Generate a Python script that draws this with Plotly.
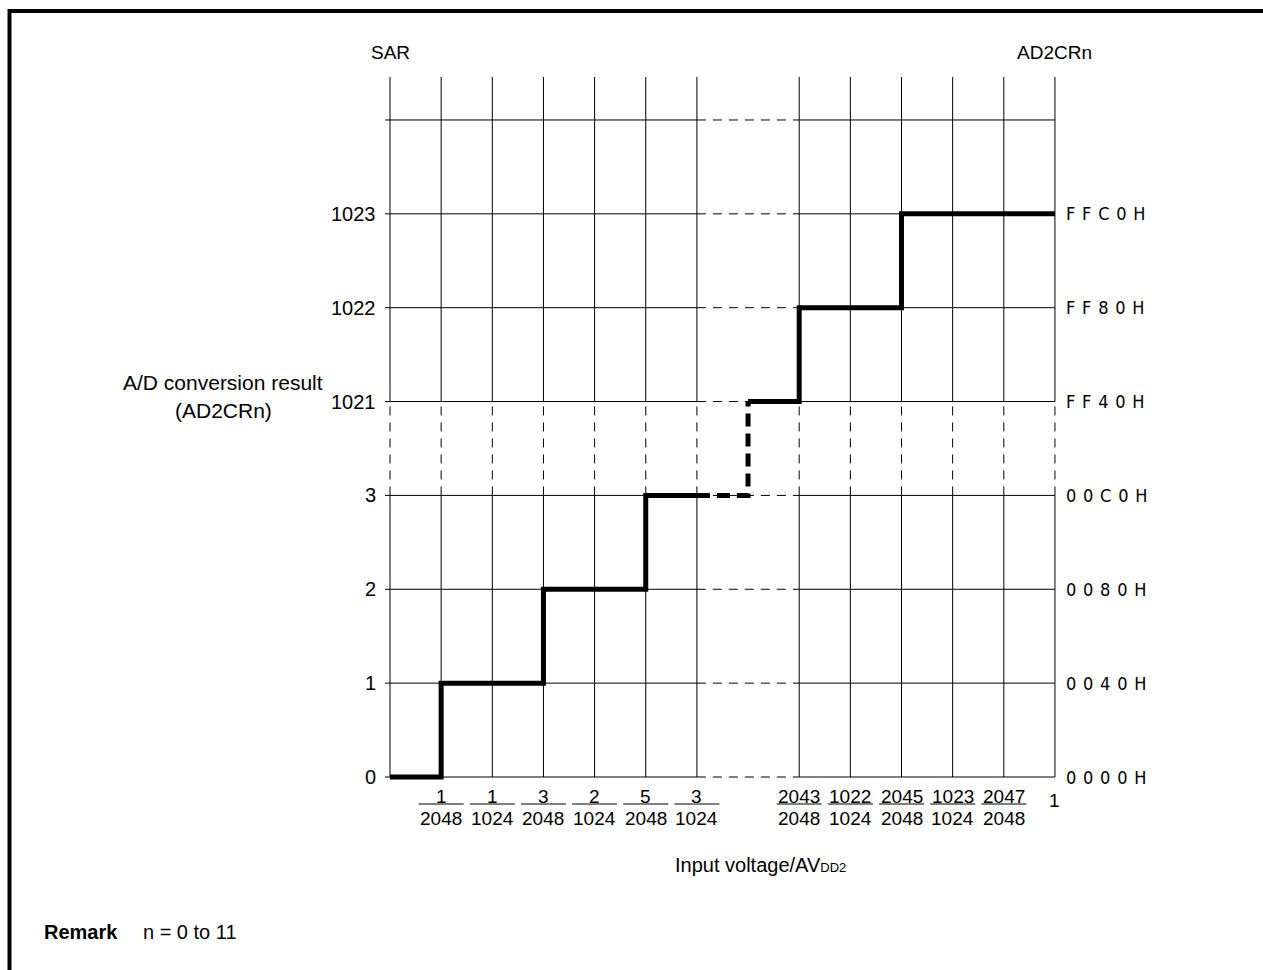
import plotly.graph_objects as go

# ---------------- data ----------------
sar_labels = ["0", "1", "2", "3", "1021", "1022", "1023"]           # SAR codes (rows)
hex_labels = ["0000H", "0040H", "0080H", "00C0H", "FF40H", "FF80H", "FFC0H"]  # AD2CRn
row_pos = [0, 1, 2, 3, 4, 5, 6]
top_row = 7                                                          # unlabeled top grid line

frac_num = ["1", "1", "3", "2", "5", "3", "2043", "1022", "2045", "1023", "2047"]
frac_den = ["2048", "1024", "2048", "1024", "2048", "1024", "2048", "1024", "2048", "1024", "2048"]
frac_pos = [1, 2, 3, 4, 5, 6, 8, 9, 10, 11, 12]
end_label, end_pos = "1", 13

# staircase: (edge positions, code rows) for the low and the high part
low_edges = [0, 1, 3, 5, 6]
low_rows = [0, 1, 2, 3]
gap_edges = [6, 7]            # broken (dashed) part
high_edges = [7, 8, 10, 13]
high_rows = [4, 5, 6]

# ---------------- geometry helpers ----------------
W, H = 1263, 970
X0, DX = 390.0, 51.15        # pixel of x=0, pixels per unit
Y0, DY = 777.0, 93.86        # pixel of y=0, pixels per unit
xr = [-X0 / DX, (W - X0) / DX]
yr = [(Y0 - H) / DY, Y0 / DY]


def ypx(p):
    return (Y0 - p) / DY


def xpx(p):
    return (p - X0) / DX


FONT = "Liberation Sans, Arial, Helvetica, sans-serif"
NARROW = "Liberation Sans Narrow, Arial Narrow, DejaVu Sans Condensed, Liberation Sans, sans-serif"

fig = go.Figure()

# ---------------- grid ----------------
cols = [0, 1, 2, 3, 4, 5, 6, 8, 9, 10, 11, 12, 13]
ytop = ypx(77)
break_lo, break_hi = 3, 4
left_end, right_start = 6, 8
xl = -5 / DX
right_end = 13

sx, sy, dx_, dy_ = [], [], [], []
for c in cols:
    sx += [c, c, None, c, c, None]
    sy += [0, break_lo, None, break_hi, ytop, None]
    dx_ += [c, c, None]
    dy_ += [break_lo, break_hi, None]
for r in row_pos + [top_row]:
    sx += [xl, left_end, None, right_start, right_end, None]
    sy += [r, r, None, r, r, None]
    dx_ += [left_end, right_start, None]
    dy_ += [r, r, None]

fig.add_trace(go.Scatter(x=sx, y=sy, mode="lines", line=dict(color="black", width=1),
                         hoverinfo="skip", showlegend=False))
fig.add_trace(go.Scatter(x=dx_, y=dy_, mode="lines",
                         line=dict(color="black", width=1, dash="9px,7px"),
                         hoverinfo="skip", showlegend=False))


# ---------------- staircase ----------------
def stair(edges, rows):
    xs, ys = [], []
    for i, r in enumerate(rows):
        xs += [edges[i], edges[i + 1]]
        ys += [r, r]
    return xs, ys


lx, ly = stair(low_edges, low_rows)
hx, hy = stair(high_edges, high_rows)
gx = [gap_edges[0], gap_edges[1], gap_edges[1]]
gy = [low_rows[-1], low_rows[-1], high_rows[0]]

for xs, ys, dash in [(lx, ly, "solid"), (hx, hy, "solid"), (gx, gy, "13px,7px")]:
    fig.add_trace(go.Scatter(x=xs, y=ys, mode="lines",
                             line=dict(color="black", width=5, dash=dash, shape="linear"),
                             hoverinfo="skip", showlegend=False))

# ---------------- labels ----------------
ann = []
for r, t in zip(row_pos, sar_labels):
    ann.append(dict(x=0, y=r, text=t, xanchor="right", yanchor="middle", xshift=-12,
                    showarrow=False, font=dict(family=FONT, size=20, color="black")))
for r, t in zip(row_pos, hex_labels):
    spaced = "\u00a0\u200a".join(list(t))
    ann.append(dict(x=right_end, y=r, text=spaced, xanchor="left", yanchor="middle", xshift=9,
                    showarrow=False, font=dict(family=NARROW, size=18, color="black")))

shapes = []
for p, n, d in zip(frac_pos, frac_num, frac_den):
    ann.append(dict(x=p, y=ypx(796), text=n, xanchor="center", yanchor="middle",
                    showarrow=False, font=dict(family=FONT, size=19, color="black")))
    ann.append(dict(x=p, y=ypx(818), text=d, xanchor="center", yanchor="middle",
                    showarrow=False, font=dict(family=FONT, size=19, color="black")))
    shapes.append(dict(type="line", xref="x", yref="y", x0=p - 0.44, x1=p + 0.44,
                       y0=ypx(804), y1=ypx(804), line=dict(color="black", width=1)))
ann.append(dict(x=end_pos, y=ypx(800), text=end_label, xanchor="center", yanchor="middle",
                showarrow=False, font=dict(family=FONT, size=19, color="black")))

ann.append(dict(x=0, y=ypx(52), text="SAR", xanchor="center", yanchor="middle",
                showarrow=False, font=dict(family=FONT, size=19, color="black")))
ann.append(dict(x=right_end, y=ypx(52), text="AD2CRn", xanchor="center", yanchor="middle",
                showarrow=False, font=dict(family=FONT, size=19, color="black")))
ann.append(dict(x=xpx(223), y=ypx(382), text="A/D conversion result", xanchor="center",
                yanchor="middle", showarrow=False, font=dict(family=FONT, size=21, color="black")))
ann.append(dict(x=xpx(223), y=ypx(410), text="(AD2CRn)", xanchor="center",
                yanchor="middle", showarrow=False, font=dict(family=FONT, size=21, color="black")))
ann.append(dict(x=xpx(673), y=ypx(865), text="Input voltage/AV<span style='font-size:13px'>DD2</span>",
                xanchor="left", yanchor="middle", showarrow=False,
                font=dict(family=FONT, size=20, color="black")))
ann.append(dict(x=xpx(42), y=ypx(932), text="<b>Remark</b>\u2003\u00a0n = 0 to 11", xanchor="left",
                yanchor="middle", showarrow=False, font=dict(family=FONT, size=20, color="black")))

# frame
shapes.append(dict(type="rect", xref="paper", yref="paper",
                   x0=9.5 / W, x1=1275 / W, y0=1 - 980 / H, y1=1 - 11 / H,
                   line=dict(color="black", width=4), fillcolor="rgba(0,0,0,0)", layer="above"))

fig.update_layout(
    width=W, height=H,
    margin=dict(l=0, r=0, t=0, b=0, autoexpand=False),
    paper_bgcolor="white", plot_bgcolor="white",
    xaxis=dict(range=xr, visible=False, fixedrange=True),
    yaxis=dict(range=yr, visible=False, fixedrange=True),
    annotations=ann, shapes=shapes, showlegend=False,
)

fig.write_html("out.html", config={"displayModeBar": False},
               post_script="document.body.style.margin='0px';document.body.style.overflow='hidden';")
